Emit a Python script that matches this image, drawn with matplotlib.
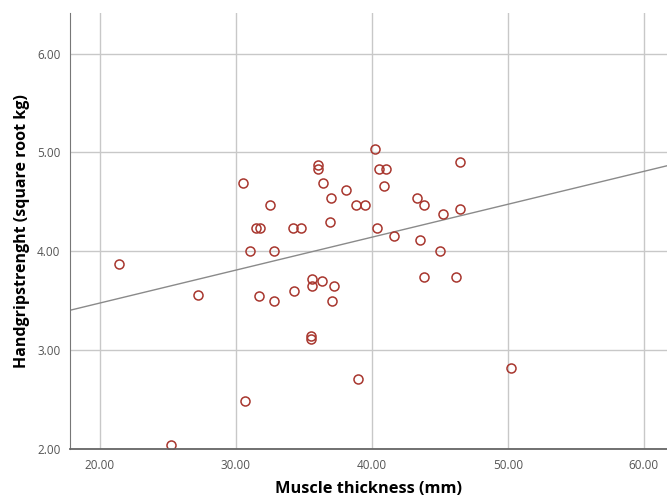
import numpy as np
import matplotlib
matplotlib.use("Agg")
import matplotlib.pyplot as plt

# muscle thickness (mm) and handgrip strength (sqrt kg)
thickness = [21.4, 25.2, 27.2, 30.5, 30.7, 31.0, 31.5, 31.8, 31.7, 32.5,
             32.8, 32.8, 34.2, 34.8, 34.3, 35.5, 35.5, 35.6, 35.6, 36.3,
             36.0, 36.0, 36.4, 36.9, 37.0, 37.1, 37.2, 38.1, 38.8, 39.5,
             39.0, 40.2, 40.4, 40.5, 41.0, 40.9, 41.6, 43.3, 43.8, 43.5,
             43.8, 45.0, 45.2, 46.2, 46.5, 46.5, 50.2]
handgrip = [3.87, 2.04, 3.56, 4.69, 2.48, 4.00, 4.24, 4.24, 3.55, 4.47,
            4.00, 3.50, 4.24, 4.24, 3.60, 3.14, 3.11, 3.72, 3.65, 3.70,
            4.87, 4.83, 4.69, 4.30, 4.54, 3.50, 3.65, 4.62, 4.47, 4.47,
            2.71, 5.03, 4.24, 4.83, 4.83, 4.66, 4.15, 4.54, 4.47, 4.11,
            3.74, 4.00, 4.38, 3.74, 4.90, 4.43, 2.82]

# fit line as drawn on the chart
fit_intercept = 2.81
fit_slope = 0.0333

x_ticks = [20, 30, 40, 50, 60]
y_ticks = [2, 3, 4, 5, 6]

plt.rcParams['font.family'] = ['Open Sans', 'DejaVu Sans']

fig = plt.figure(figsize=(6.67, 5.01), dpi=100)
ax = fig.add_axes([0.105, 0.104, 0.895, 0.87])

xmin, xmax = 17.8, 61.7
ax.set_xlim(xmin, xmax)
ax.set_ylim(2.0, 6.41)

ax.grid(True, color='#c8c8c8', linewidth=1)
ax.set_axisbelow(True)

xs = np.array([xmin, xmax])
ax.plot(xs, fit_intercept + fit_slope * xs, color='#8a8a8a', linewidth=1)

ax.plot(thickness, handgrip, 'o', markersize=6.5, markerfacecolor='none',
        markeredgecolor='#a8362e', markeredgewidth=1.1, linestyle='none')

ax.set_xticks(x_ticks)
ax.set_yticks(y_ticks)
ax.set_xticklabels([f'{v:.2f}' for v in x_ticks])
ax.set_yticklabels([f'{v:.2f}' for v in y_ticks])
ax.tick_params(length=0, labelsize=8.5, colors='#555555', pad=7)

for side in ['top', 'right']:
    ax.spines[side].set_visible(False)
ax.spines['left'].set_color('#777777')
ax.spines['bottom'].set_color('#666666')
ax.spines['bottom'].set_linewidth(1.3)

ax.set_xlabel('Muscle thickness (mm)', fontsize=11.8, fontweight='bold', labelpad=7)
ax.set_ylabel('Handgripstrenght (square root kg)', fontsize=11.5, fontweight='bold', labelpad=5)

fig.savefig('out.png', dpi=100)
